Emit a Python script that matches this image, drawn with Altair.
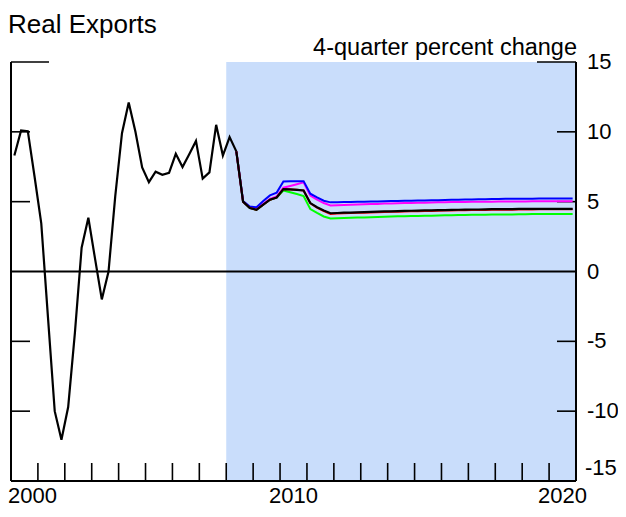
import altair as alt
import pandas as pd

FONT = "Liberation Sans"
W, H = 565, 419

# ---------------- data ----------------
quarters = [f"{y}Q{q}" for y in range(2000, 2021) for q in range(1, 5)]

history = [  # 2000Q1 .. 2008Q2
    8.3, 10.1, 10.05, 6.8,
    3.45, -3.3, -10.0, -12.05,
    -9.7, -4.4, 1.7, 3.85,
    0.9, -2.0, 0.0, 5.4,
    9.9, 12.1, 10.0, 7.45,
    6.4, 7.15, 6.92, 7.07,
    8.43, 7.48, 8.4, 9.35,
    6.65, 7.1, 10.5, 8.3,
    9.63, 8.6,
]

# projections, 2008Q2 .. 2020Q4
baseline = [
    8.6, 5.0, 4.55,
    4.42, 4.78, 5.14, 5.3,
    5.9, 5.88, 5.85, 5.8,
    4.9, 4.6, 4.37, 4.17,
    4.19, 4.21, 4.22, 4.24,
    4.25, 4.27, 4.28, 4.3,
    4.31, 4.32, 4.34, 4.35,
    4.36, 4.37, 4.38, 4.39,
    4.4, 4.41, 4.42, 4.43,
    4.44, 4.44, 4.45, 4.46,
    4.46, 4.47, 4.47, 4.48,
    4.48, 4.48, 4.49, 4.49,
    4.49, 4.49, 4.49, 4.49,
]
red_alt = [
    8.6, 5.0, 4.55,
    4.42, 4.78, 5.14, 5.3,
    5.9, 5.88, 5.85, 5.8,
    4.88, 4.57, 4.33, 4.12,
    4.15, 4.17, 4.18, 4.2,
    4.21, 4.23, 4.24, 4.26,
    4.27, 4.28, 4.3, 4.31,
    4.32, 4.33, 4.34, 4.35,
    4.36, 4.37, 4.38, 4.39,
    4.4, 4.4, 4.41, 4.42,
    4.42, 4.43, 4.43, 4.44,
    4.44, 4.44, 4.45, 4.45,
    4.45, 4.45, 4.45, 4.45,
]
blue_alt = [
    8.6, 5.05, 4.65,
    4.6, 5.05, 5.45, 5.65,
    6.45, 6.47, 6.47, 6.47,
    5.57, 5.3, 5.07, 4.95,
    4.96, 4.97, 4.98, 4.99,
    5.0, 5.01, 5.02, 5.03,
    5.04, 5.05, 5.06, 5.07,
    5.08, 5.09, 5.1, 5.11,
    5.12, 5.13, 5.14, 5.15,
    5.16, 5.17, 5.18, 5.19,
    5.19, 5.2, 5.2, 5.21,
    5.21, 5.21, 5.22, 5.22,
    5.22, 5.22, 5.22, 5.22,
]
magenta_alt = [
    8.6, 5.0, 4.58,
    4.48, 4.85, 5.2, 5.38,
    6.0, 6.12, 6.25, 6.38,
    5.43, 5.14, 4.9, 4.73,
    4.75, 4.77, 4.78, 4.8,
    4.81, 4.83, 4.84, 4.86,
    4.87, 4.88, 4.9, 4.91,
    4.92, 4.93, 4.94, 4.95,
    4.96, 4.97, 4.97, 4.98,
    4.99, 4.99, 5.0, 5.0,
    5.01, 5.01, 5.02, 5.02,
    5.02, 5.03, 5.03, 5.03,
    5.03, 5.03, 5.03, 5.03,
]
green_alt = [
    8.6, 5.0, 4.55,
    4.42, 4.78, 5.14, 5.3,
    5.8, 5.67, 5.55, 5.4,
    4.47, 4.19, 3.94, 3.8,
    3.81, 3.83, 3.84, 3.86,
    3.87, 3.89, 3.9, 3.92,
    3.93, 3.95, 3.96, 3.97,
    3.98, 3.99, 4.0, 4.01,
    4.02, 4.03, 4.04, 4.05,
    4.06, 4.06, 4.07, 4.08,
    4.08, 4.09, 4.09, 4.1,
    4.1, 4.11, 4.11, 4.11,
    4.12, 4.12, 4.12, 4.12,
]

shade_start, shade_end = 2008.0, 2021.0
x_min, x_max = 2000, 2021
y_min, y_max = -15, 15
year_ticks = list(range(2001, 2021))
y_side_ticks = [10, 5, -5, -10]
y_labels = [15, 10, 5, 0, -5, -10]
x_labels = ["2000", "2010", "2020"]

title_text = "Real Exports"
unit_text = "4-quarter percent change"


def qpos(label):
    yr, q = label.split("Q")
    return int(yr) + (int(q) - 1) / 4 + 0.125


xs = [qpos(q) for q in quarters]
hist_df = pd.DataFrame({"x": xs[: len(history)], "y": history})
proj_x = xs[len(history) - 1:]


def proj_df(vals):
    return pd.DataFrame({"x": proj_x[: len(vals)], "y": vals})


X = lambda: alt.X("x:Q", scale=alt.Scale(domain=[x_min, x_max], nice=False, zero=False), axis=None)
Y = lambda: alt.Y("y:Q", scale=alt.Scale(domain=[y_min, y_max], nice=False, zero=False), axis=None)

shade = alt.Chart(pd.DataFrame({"x": [shade_start], "x2": [shade_end], "y": [y_max], "y2": [y_min]})).mark_rect(
    color="#C9DDFB"
).encode(x=X(), x2="x2:Q", y=Y(), y2="y2:Q")

frame_df = pd.DataFrame({
    "x": [x_min, x_max, x_min, x_min],
    "x2": [x_min, x_max, x_max, x_max],
    "y": [y_min, y_min, y_min, 0],
    "y2": [y_max, y_max, y_min, 0],
})
frame = alt.Chart(frame_df).mark_rule(color="black", strokeWidth=2).encode(
    x=X(), x2="x2:Q", y=Y(), y2="y2:Q"
)

bottom_ticks = alt.Chart(pd.DataFrame({"x": year_ticks})).mark_rule(color="black", strokeWidth=1.6).encode(
    x=X(), y=alt.value(H), y2=alt.value(H - 18)
)
left_ticks = alt.Chart(pd.DataFrame({"y": y_side_ticks})).mark_rule(color="black", strokeWidth=1.6).encode(
    y=Y(), x=alt.value(0), x2=alt.value(19)
)
right_ticks = alt.Chart(pd.DataFrame({"y": y_side_ticks})).mark_rule(color="black", strokeWidth=1.6).encode(
    y=Y(), x=alt.value(W - 19), x2=alt.value(W)
)
top_left = alt.Chart(pd.DataFrame({"y": [y_max]})).mark_rule(color="black", strokeWidth=1.6).encode(
    y=Y(), x=alt.value(0), x2=alt.value(38)
)
top_right = alt.Chart(pd.DataFrame({"y": [y_max]})).mark_rule(color="black", strokeWidth=1.6).encode(
    y=Y(), x=alt.value(W - 39), x2=alt.value(W)
)


def line(df, color, sw=2):
    return alt.Chart(df).mark_line(color=color, strokeWidth=sw).encode(x=X(), y=Y())


lines = [
    line(proj_df(green_alt), "#00FF00"),
    line(proj_df(magenta_alt), "#FF00FF"),
    line(proj_df(blue_alt), "#0000FF"),
    line(proj_df(red_alt), "#FF0000"),
    line(proj_df(baseline), "black", 2.2),
    line(hist_df, "black", 2.2),
]

ylab_df = pd.DataFrame({
    "y": y_labels,
    "t": [("\u2009" + str(v)) if len(str(v)) == 1 else str(v) for v in y_labels],
})
ylabels = alt.Chart(ylab_df).mark_text(
    font=FONT, fontSize=22, align="left", baseline="middle", color="black"
).encode(y=Y(), x=alt.value(W + 11), text="t:N")
ylab_bottom = alt.Chart(pd.DataFrame({"y": [y_min], "t": [str(y_min)]})).mark_text(
    font=FONT, fontSize=22, align="left", baseline="alphabetic", dy=-6, color="black"
).encode(y=Y(), x=alt.value(W + 9), text="t:N")

xlab_df = pd.DataFrame({"x": [int(s) + 0.5 for s in x_labels], "t": x_labels})
xlabels = alt.Chart(xlab_df.iloc[1:]).mark_text(
    font=FONT, fontSize=22, align="center", baseline="alphabetic", color="black"
).encode(x=X(), y=alt.value(H + 22), text="t:N")
xlabel_first = alt.Chart(xlab_df.iloc[:1]).mark_text(
    font=FONT, fontSize=22, align="left", baseline="alphabetic", color="black"
).encode(x=alt.value(-3), y=alt.value(H + 22), text="t:N")

title = alt.Chart(pd.DataFrame({"t": [title_text]})).mark_text(
    font=FONT, fontSize=26, align="left", baseline="alphabetic", color="black"
).encode(x=alt.value(-3), y=alt.value(-29), text="t:N")
unit = alt.Chart(pd.DataFrame({"t": [unit_text]})).mark_text(
    font=FONT, fontSize=23.5, align="right", baseline="alphabetic", color="black"
).encode(x=alt.value(W + 1), y=alt.value(-7), text="t:N")

chart = alt.layer(
    shade, frame, bottom_ticks, left_ticks, right_ticks, top_left, top_right,
    *lines, ylabels, ylab_bottom, xlabels, xlabel_first, title, unit,
).properties(
    width=W, height=H,
    autosize=alt.AutoSizeParams(type="none"),
    padding={"left": 3, "top": 54, "right": 42, "bottom": 27},
).configure_view(stroke=None)

chart.save("out.html", embed_options={"renderer": "svg", "actions": False})
